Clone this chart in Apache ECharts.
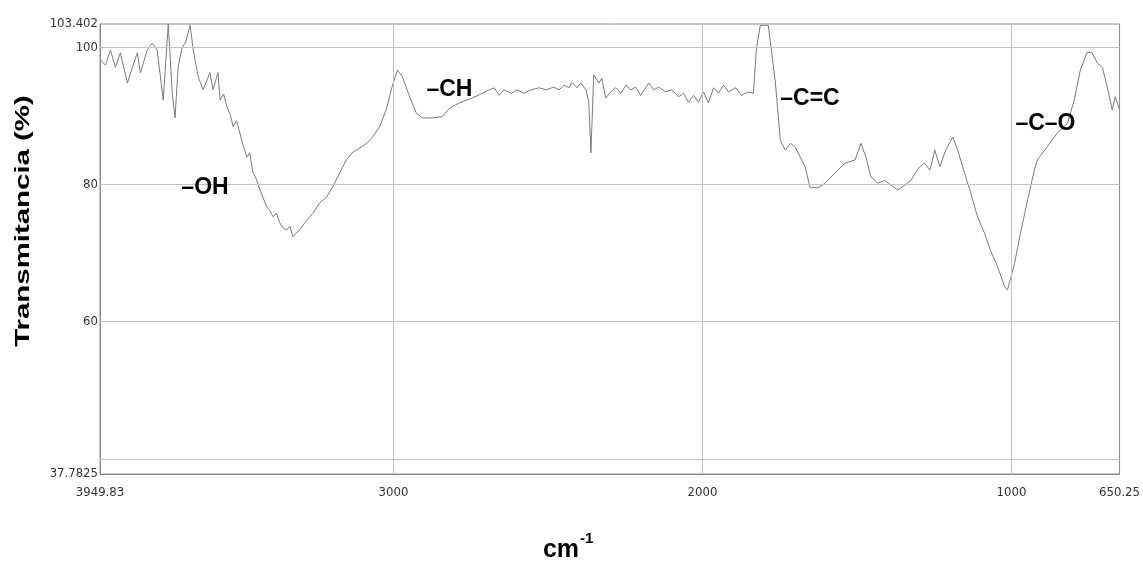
<!DOCTYPE html>
<html>
<head>
<meta charset="utf-8">
<title>Espectro FTIR</title>
<script src="https://cdn.jsdelivr.net/npm/echarts@6/dist/echarts.min.js"></script>
<style>
    html, body { margin: 0; padding: 0; background: #fff; }
    #chart { width: 1143px; height: 567px; }
</style>
</head>
<body>
<div id="chart"></div>
<script>
var waveNumbers = [
    3948, 3932, 3916, 3900, 3884, 3861, 3845, 3829, 3819, 3797,
    3781, 3765, 3745, 3729, 3716, 3707, 3697, 3684, 3674, 3658,
    3648, 3632, 3616, 3594, 3584, 3568, 3561, 3550, 3539, 3528,
    3519, 3508, 3497, 3486, 3474, 3465, 3455, 3444, 3432, 3410,
    3400, 3390, 3379, 3368, 3356, 3345, 3335, 3326, 3303, 3281,
    3261, 3239, 3216, 3197, 3174, 3152, 3132, 3110, 3087, 3068,
    3045, 3023, 3003, 2987, 2971, 2948, 2926, 2906, 2874, 2842,
    2819, 2787, 2745, 2713, 2690, 2674, 2658, 2642, 2619, 2600,
    2577, 2555, 2529, 2506, 2481, 2464, 2448, 2432, 2423, 2406,
    2394, 2377, 2368, 2361, 2352, 2335, 2326, 2313, 2297, 2281,
    2264, 2248, 2232, 2216, 2200, 2184, 2174, 2158, 2142, 2119,
    2100, 2077, 2061, 2045, 2029, 2013, 1997, 1981, 1964, 1948,
    1932, 1916, 1893, 1874, 1852, 1835, 1826, 1813, 1787, 1777,
    1764, 1748, 1732, 1716, 1700, 1684, 1668, 1652, 1626, 1603,
    1571, 1539, 1506, 1487, 1471, 1455, 1432, 1410, 1390, 1368,
    1345, 1326, 1297, 1281, 1264, 1248, 1232, 1213, 1190, 1174,
    1152, 1132, 1110, 1087, 1068, 1045, 1022, 1013, 990, 971,
    948, 926, 916, 884, 852, 819, 797, 777, 755, 739,
    722, 706, 690, 674, 664, 651
];
var transmittance = [
    98.1, 97.4, 99.6, 97.1, 99.2, 94.8, 97.1, 99.2, 96.3, 99.6,
    100.6, 99.6, 92.3, 103.4, 93.3, 89.7, 97.1, 100.0, 100.6, 103.2,
    99.6, 95.7, 93.8, 96.3, 93.8, 96.3, 92.3, 93.2, 91.3, 90.2,
    88.4, 89.3, 87.5, 85.6, 84.0, 84.6, 81.7, 80.8, 79.2, 76.7,
    76.2, 75.3, 75.8, 74.4, 73.6, 73.4, 73.9, 72.4, 73.4, 74.8,
    75.8, 77.3, 78.2, 79.6, 81.7, 83.6, 84.7, 85.3, 86.0, 86.9,
    88.4, 91.0, 94.5, 96.7, 95.7, 92.8, 90.4, 89.7, 89.7, 89.9,
    91.1, 91.9, 92.6, 93.3, 93.8, 94.1, 93.0, 93.8, 93.3, 93.8,
    93.3, 93.8, 94.1, 93.8, 94.2, 93.8, 94.5, 94.1, 94.9, 94.1,
    94.8, 93.8, 92.0, 84.6, 96.0, 94.8, 95.5, 92.6, 93.5, 94.1,
    93.3, 94.5, 93.8, 94.2, 93.0, 94.1, 94.8, 93.8, 94.2, 93.5,
    93.8, 92.8, 93.3, 92.0, 93.0, 92.0, 93.5, 91.9, 94.1, 93.3,
    94.5, 93.5, 94.1, 93.0, 93.5, 93.3, 99.6, 103.2, 103.2, 99.6,
    94.8, 86.5, 85.0, 86.0, 85.5, 84.0, 82.6, 79.6, 79.5, 80.2,
    81.7, 83.1, 83.6, 86.0, 84.0, 81.1, 80.2, 80.6, 79.9, 79.2,
    79.9, 80.6, 82.6, 83.1, 82.1, 85.0, 82.6, 85.0, 86.9, 85.0,
    81.7, 78.8, 75.3, 72.9, 70.4, 68.0, 65.1, 64.6, 68.5, 72.9,
    77.7, 82.1, 83.6, 85.5, 87.5, 88.9, 92.3, 96.7, 99.3, 99.2,
    97.7, 97.1, 94.2, 90.9, 92.8, 91.0
];

// ejes
var xMin = 650.25, xMax = 3949.83;
var yMin = 37.7825, yMax = 103.402;
var xTickValues = [3949.83, 3000, 2000, 1000, 650.25];
var yTickValues = [37.7825, 60, 80, 100, 103.402];
var xGridValues = [3000, 2000, 1000];
var yGridValues = [100, 80, 60, 40];

// bandas senaladas
var bandNames = ['\u2013OH', '\u2013CH', '\u2013C=C', '\u2013C\u2013O'];
var bandWave = [3610, 2819, 1652, 890];
var bandTrans = [79.6, 93.8, 92.5, 88.9];

var tickFont = '"Liberation Sans Narrow", "DejaVu Sans Condensed", sans-serif';
var titleFont = '"Liberation Sans", Arial, sans-serif';

var seriesData = waveNumbers.map(function(w, i) {
    return [w, transmittance[i]];
});

var gridLines = [];
xGridValues.forEach(function(v) { gridLines.push({ xAxis: v }); });
yGridValues.forEach(function(v) { gridLines.push({ yAxis: v }); });

var bandPoints = bandNames.map(function(n, i) {
    return { name: n, coord: [bandWave[i], bandTrans[i]] };
});

var myChart = echarts.init(document.getElementById('chart'));

var option = {
    animation: false,
    backgroundColor: '#fff',
    grid: {
        left: 100,
        right: 23,
        top: 24,
        bottom: 93,
        show: true,
        borderColor: '#8c8c8c',
        borderWidth: 1
    },
    xAxis: {
        type: 'value',
        inverse: true,
        min: xMin,
        max: xMax,
        axisLine: { show: true, lineStyle: { color: '#8c8c8c' } },
        axisTick: { show: false },
        splitLine: { show: false },
        axisLabel: {
            customValues: xTickValues,
            margin: 12,
            color: '#333',
            fontSize: 13,
            fontFamily: tickFont,
            formatter: function(v) { return String(v); }
        }
    },
    yAxis: {
        type: 'value',
        min: yMin,
        max: yMax,
        axisLine: { show: true, lineStyle: { color: '#8c8c8c' } },
        axisTick: { show: false },
        splitLine: { show: false },
        axisLabel: {
            customValues: yTickValues,
            margin: 2,
            color: '#333',
            fontSize: 13,
            fontFamily: tickFont,
            formatter: function(v) { return String(v); }
        }
    },
    series: [{
        name: 'Transmitancia',
        type: 'line',
        data: seriesData,
        showSymbol: false,
        silent: true,
        lineStyle: { color: '#7a7a7a', width: 1 },
        markLine: {
            silent: true,
            symbol: ['none', 'none'],
            label: { show: false },
            lineStyle: { color: '#c4c4c4', type: 'solid', width: 1 },
            data: gridLines
        },
        markPoint: {
            silent: true,
            symbol: 'rect',
            symbolSize: 1,
            itemStyle: { color: 'rgba(0,0,0,0)' },
            label: {
                show: true,
                position: 'inside',
                formatter: '{b}',
                color: '#000',
                fontSize: 23,
                fontWeight: 'bold',
                fontFamily: titleFont
            },
            data: bandPoints
        }
    }],
    graphic: [{
        type: 'text',
        x: 23,
        y: 221,
        rotation: Math.PI / 2,
        scaleX: 1.4,
        style: {
            text: 'Transmitancia (%)',
            font: 'bold 21px ' + titleFont,
            fill: '#000',
            textAlign: 'center',
            textVerticalAlign: 'middle',
            verticalAlign: 'middle'
        }
    }, {
        type: 'text',
        x: 561,
        y: 550,
        style: {
            text: 'cm',
            font: 'bold 25px ' + titleFont,
            fill: '#000',
            textAlign: 'center',
            textVerticalAlign: 'middle',
            verticalAlign: 'middle'
        }
    }, {
        type: 'text',
        x: 580,
        y: 539,
        style: {
            text: '-1',
            font: 'bold 15px ' + titleFont,
            fill: '#000',
            textAlign: 'left',
            textVerticalAlign: 'middle',
            verticalAlign: 'middle'
        }
    }]
};
myChart.setOption(option);
</script>
</body>
</html>
